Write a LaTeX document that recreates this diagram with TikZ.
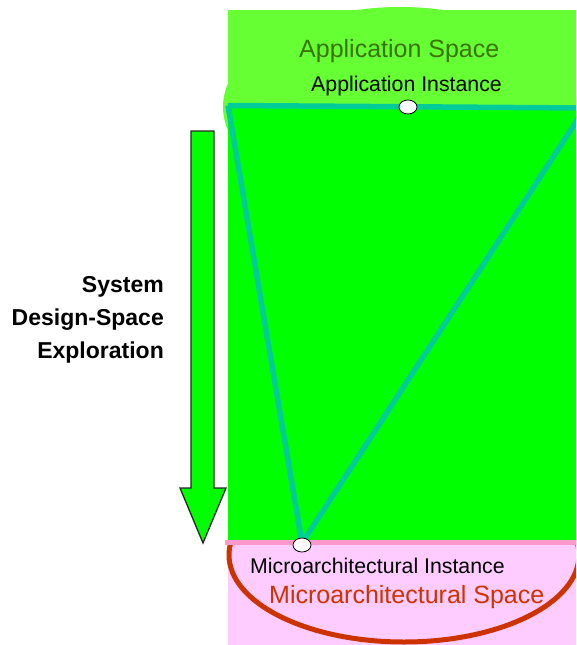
\documentclass[tikz,border=0pt]{standalone}
\usepackage{fontspec}
\setmainfont{Liberation Sans}
\usepackage{xcolor}
\definecolor{appgreen}{HTML}{66FF33}
\definecolor{spacegreen}{HTML}{00FF00}
\definecolor{edgeteal}{HTML}{00CC99}
\definecolor{micropink}{HTML}{FFCCFF}
\definecolor{rimpink}{HTML}{FF99CC}
\definecolor{microred}{HTML}{CC3300}
\definecolor{apptext}{HTML}{3A7300}
\tikzset{
  label/.style={inner sep=0pt, anchor=base west},
  instance/.style={ellipse, draw=black, fill=white, line width=0.8pt,
    minimum width=18pt, minimum height=14pt, inner sep=0pt},
  edge/.style={draw=edgeteal, line width=5.5pt, line join=round}
}
\usetikzlibrary{shapes.geometric}

\begin{document}
\begin{tikzpicture}[x=1pt,y=-1pt]
\clip (0,0) rectangle (576,645);
%%%SPACES
\fill[micropink] (228,541) rectangle (576,645);
\draw[microred, line width=5pt] (404,555) ellipse (175 and 87);
\fill[appgreen] (400,107) ellipse (177 and 100);
\fill[appgreen] (228,10) rectangle (576,107);
\fill[spacegreen] (228,107) rectangle (576,541);
\draw[rimpink, line width=5pt] (225,542) -- (576,542);
%%%DESIGN SPACE TRIANGLE
\coordinate (topleft) at (228,105.5);
\coordinate (topright) at (585,108);
\coordinate (appI) at (408,107);
\coordinate (microI) at (302,543);
\draw[edge] (topleft) -- (topright);
\draw[edge] (topleft) -- (microI) -- (topright);
\node[instance] (appdot) at (appI) {};
\node[instance] (microdot) at (302,545) {};
%%%EXPLORATION ARROW
\filldraw[fill=spacegreen, draw=black!85, line width=1.3pt, line join=miter]
  (191,131) -- (214,131) -- (214,488) -- (226,488) -- (203,543)
  -- (180,488) -- (191,488) -- cycle;
%%%TEXTS
\node[label, text=apptext, font=\fontsize{25}{30}\selectfont] (appspace) at (299,57) {Application Space};
\node[label, font=\fontsize{21.3}{26}\selectfont] (applabel) at (311,91) {Application Instance};
\node[label, font=\fontsize{21.3}{26}\selectfont] (microlabel) at (250,573) {Microarchitectural Instance};
\node[label, text=microred, font=\fontsize{25}{30}\selectfont] (microspace) at (269,603) {Microarchitectural Space};
\node[inner sep=0pt, anchor=east, align=right, font=\bfseries\fontsize{23}{33}\selectfont] (explore) at (164,320)
  {System\\Design-Space\\Exploration};
\end{tikzpicture}
\end{document}
